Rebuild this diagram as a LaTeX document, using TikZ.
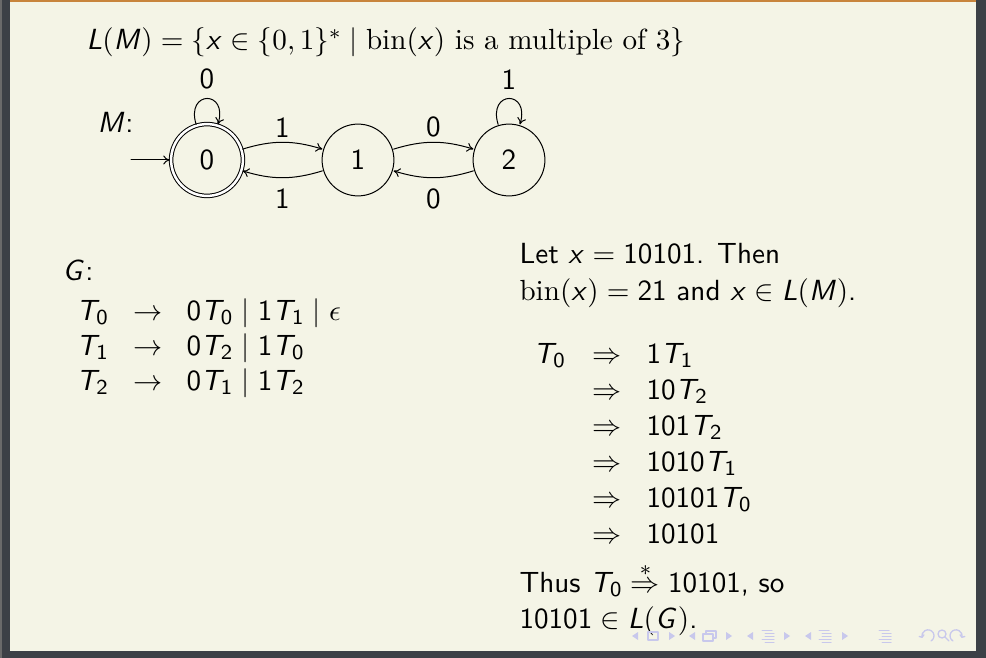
\RequirePackage{fix-cm}
\documentclass[tikz,border=0pt]{standalone}
\usepackage{amsmath}
\usepackage{amssymb}
\usetikzlibrary{arrows.meta,positioning}
\DeclareMathAlphabet{\mathsfit}{OT1}{cmss}{m}{sl}
\definecolor{slidebg}{HTML}{F4F4E6}
\definecolor{framegray}{HTML}{3C4046}
\definecolor{edgegray}{HTML}{6A6A6A}
\definecolor{barorange}{HTML}{C8843C}
\definecolor{navblue}{RGB}{200,200,236}
\newcommand{\sv}[1]{\mathsfit{#1}}
\newcommand{\Tn}[1]{\mathsfit{T}_{\mathsf{#1}}}
\begin{document}
\begin{tikzpicture}[x=1pt,y=1pt,line cap=round,line join=round,>={To[length=6.5pt,width=9pt]},
  every node/.style={scale=2.66,font=\sffamily\fontsize{10.95}{13.6}\selectfont},
  st/.style={draw,circle,line width=1pt,minimum size=27pt,inner sep=0pt},
  acc/.style={st,double,double distance=2.5pt},
  edge/.style={->,line width=1pt},
  lbl/.style={inner sep=1.4pt},
  cell/.style={anchor=base west,inner sep=0pt},
  nav/.style={draw=navblue,line width=1.3pt}]
\useasboundingbox (0,0) rectangle (986,-658);
\fill[framegray] (0,0) rectangle (986,-658);
\fill[edgegray] (0,0) rectangle (2,-658);
\fill[slidebg] (10,-2) rectangle (976,-651);
\fill[barorange] (10,0) rectangle (976,-2);
% language of the automaton
\node[cell] (lang) at (86,-50) {$\sv{L}(\sv{M}) = \{\sv{x} \in \{0,1\}^* \mid \textrm{bin}(\sv{x}) \textrm{ is a multiple of } 3\}$};
% the automaton M
\node[cell] (mname) at (97,-133) {$\sv{M}$:};
\node[acc] (q0) at (207,-160) {0};
\node[st] (q1) at (358,-160) {1};
\node[st] (q2) at (509,-160) {2};
\coordinate (start) at (131,-160);
\draw[edge] (start) -- (q0);
\draw[edge] (q0) to[bend left=17] node[lbl,above] {1} (q1);
\draw[edge] (q1) to[bend left=17] node[below=1.1pt] {1} (q0);
\draw[edge] (q1) to[bend left=17] node[lbl,above] {0} (q2);
\draw[edge] (q2) to[bend left=17] node[below=1.1pt] {0} (q1);
\draw[edge] (q0) to[out=107,in=73,distance=36pt] node[lbl,above=4pt] {0} (q0);
\draw[edge] (q2) to[out=107,in=73,distance=36pt] node[lbl,above=4pt] {1} (q2);
% the grammar G
\node[cell] (gname) at (62,-280) {$\sv{G}$:};
\node[cell] (l0) at (76,-320) {$\Tn{0}$};
\node[cell] (a0) at (133,-320) {$\rightarrow$};
\node[cell] (r0) at (186,-320) {$\mathsf{0}\Tn{0} \mid \mathsf{1}\Tn{1} \mid \epsilon$};
\node[cell] (l1) at (76,-355) {$\Tn{1}$};
\node[cell] (a1) at (133,-355) {$\rightarrow$};
\node[cell] (r1) at (186,-355) {$\mathsf{0}\Tn{2} \mid \mathsf{1}\Tn{0}$};
\node[cell] (l2) at (76,-390) {$\Tn{2}$};
\node[cell] (a2) at (133,-390) {$\rightarrow$};
\node[cell] (r2) at (186,-390) {$\mathsf{0}\Tn{1} \mid \mathsf{1}\Tn{2}$};
% the derivation
\node[cell] (let) at (519,-263) {Let $\sv{x} = \mathsf{10101}$. Then};
\node[cell] (bin) at (519,-300) {$\textrm{bin}(\sv{x}) = \mathsf{21}$ and $\sv{x} \in \sv{L}(\sv{M})$.};
\node[cell] (d0) at (533,-363) {$\Tn{0}$};
\foreach \y/\w [count=\i] in {363/{1\Tn{1}},399/{10\Tn{2}},435/{101\Tn{2}},471/{1010\Tn{1}},507/{10101\Tn{0}},543/{10101}} {
  \node[cell] (s\i) at (592,-\y) {$\Rightarrow$};
  \node[cell] (w\i) at (646,-\y) {$\mathsf{\w}$};
}
\node[cell] (thus) at (519,-592) {Thus $\Tn{0} \overset{*}{\Rightarrow} \mathsf{10101}$, so};
\node[cell] (ing) at (519,-628) {$\mathsf{10101} \in \sv{L}(\sv{G})$.};
% navigation symbols
\foreach \xa/\xb in {635/672,692/729,750/787,808/845} {
  \fill[navblue] (\xa+3,-632) -- (\xa-3,-636) -- (\xa+3,-640) -- cycle;
  \fill[navblue] (\xb-3,-632) -- (\xb+3,-636) -- (\xb-3,-640) -- cycle;
}
\draw[nav] (648,-632) rectangle (658,-640);
\draw[nav,fill=slidebg] (706,-631) rectangle (716,-638);
\draw[nav,fill=slidebg] (703,-634) rectangle (713,-641);
\foreach \xc in {768,825,885} {
  \draw[nav,line width=1pt] (\xc-6,-630) -- (\xc+4,-630);
  \draw[nav,line width=1pt] (\xc-3,-633) -- (\xc+6,-633);
  \draw[nav,line width=1pt] (\xc-3,-636) -- (\xc+6,-636);
  \draw[nav,line width=1pt] (\xc-6,-639) -- (\xc+6,-639);
  \draw[nav,line width=1pt] (\xc-3,-642) -- (\xc+6,-642);
}
\draw[nav,-{To[length=3pt]}] (931,-641) arc (-60:200:6);
\draw[nav] (942,-634) circle (4);
\draw[nav] (945,-637) -- (949,-641);
\draw[nav,-{To[length=3pt]}] (953,-641) arc (240:-20:6);
\end{tikzpicture}
\end{document}
